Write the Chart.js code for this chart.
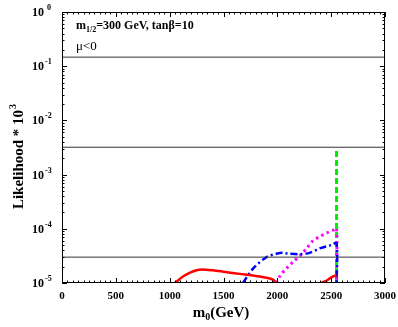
<!DOCTYPE html>
<html>
<head>
<meta charset="utf-8">
<script src="https://cdn.jsdelivr.net/npm/chart.js@4/dist/chart.umd.min.js"></script>
<style>
  html, body { margin: 0; padding: 0; background: #fff; }
  #wrap { width: 398px; height: 327px; }
</style>
</head>
<body>
<div id="wrap"><canvas id="likelihoodChart" width="398" height="327"></canvas></div>
<script>
// values (likelihood * 10^3 vs m0 in GeV)
var redX = [1050, 1120, 1190, 1250, 1300, 1400, 1500, 1600, 1700, 1800, 1900, 1960, 1990];
var redY = [1.0e-5, 1.3e-5, 1.55e-5, 1.72e-5, 1.78e-5, 1.72e-5, 1.62e-5, 1.52e-5, 1.43e-5, 1.35e-5, 1.25e-5, 1.15e-5, 1.0e-5];
var red2X = [2410, 2470, 2510, 2550];
var red2Y = [1.0e-5, 1.15e-5, 1.3e-5, 1.4e-5];
var blueX = [1680, 1780, 1900, 2000, 2050, 2100, 2200, 2300, 2400, 2500, 2550, 2550];
var blueY = [1.0e-5, 1.9e-5, 3.0e-5, 3.5e-5, 3.6e-5, 3.5e-5, 3.4e-5, 3.6e-5, 4.4e-5, 5.0e-5, 5.4e-5, 1.0e-5];
var magX = [1990, 2030, 2090, 2150, 2210, 2270, 2330, 2400, 2460, 2520, 2550, 2550];
var magY = [1.0e-5, 1.4e-5, 1.9e-5, 2.5e-5, 3.2e-5, 4.3e-5, 6.0e-5, 7.3e-5, 8.4e-5, 9.5e-5, 1.02e-4, 1.0e-5];
var greenX = [2550, 2550];
var greenY = [1.0e-5, 2.8e-3];
var levelY = [0.147, 0.0032, 3.0e-5];
var xTicks = [0, 500, 1000, 1500, 2000, 2500, 3000];
var yExps = [0, -1, -2, -3, -4, -5];

function pts(xs, ys) {
  return xs.map(function(x, i) { return { x: x, y: ys[i] }; });
}

var datasets = [];
levelY.forEach(function(v) {
  datasets.push({ data: [{ x: 0, y: v }, { x: 3000, y: v }], borderColor: '#333', borderWidth: 1 });
});
datasets.push({ data: pts(redX, redY), borderColor: '#ff0000', borderWidth: 2.5, tension: 0.3 });
datasets.push({ data: pts(red2X, red2Y), borderColor: '#ff0000', borderWidth: 2.5, tension: 0.3 });
datasets.push({ data: pts(blueX, blueY), borderColor: '#0000ff', borderWidth: 2.5, borderDash: [7, 3, 2, 3], tension: 0.3 });
datasets.push({ data: pts(magX, magY), borderColor: '#ff00ff', borderWidth: 3, borderDash: [2.5, 3.5], tension: 0.3 });
datasets.push({ data: pts(greenX, greenY), borderColor: '#00ee00', borderWidth: 3, borderDash: [6, 3] });

var SERIF = '"Liberation Serif"';

var frame = {
  id: 'frame',
  afterDraw: function(chart) {
    var ctx = chart.ctx, a = chart.chartArea;
    var xs = chart.scales.x, ys = chart.scales.y;
    ctx.save();
    ctx.strokeStyle = '#000';
    ctx.lineWidth = 1;
    ctx.strokeRect(a.left + 0.5, a.top + 0.5, a.right - a.left - 1, a.bottom - a.top - 1);

    ctx.beginPath();
    // x ticks, inward, top and bottom
    for (var v = 0; v <= 3000; v += 50) {
      var px = Math.round(xs.getPixelForValue(v)) + 0.5;
      var len = (v % 500 === 0) ? 5 : 2.5;
      ctx.moveTo(px, a.bottom); ctx.lineTo(px, a.bottom - len);
      ctx.moveTo(px, a.top); ctx.lineTo(px, a.top + len);
    }
    // y log ticks, left and right
    for (var e = -5; e <= 0; e++) {
      for (var m = 1; m <= 9; m++) {
        if (e === 0 && m > 1) break;
        var py = Math.round(ys.getPixelForValue(m * Math.pow(10, e))) + 0.5;
        var l = (m === 1) ? 5 : 2.5;
        ctx.moveTo(a.left, py); ctx.lineTo(a.left + l, py);
        ctx.moveTo(a.right, py); ctx.lineTo(a.right - l, py);
      }
    }
    ctx.stroke();

    ctx.fillStyle = '#000';
    // x tick labels
    ctx.font = 'bold 11px ' + SERIF;
    ctx.textAlign = 'center';
    ctx.textBaseline = 'middle';
    xTicks.forEach(function(t) {
      ctx.fillText(String(t), xs.getPixelForValue(t), a.bottom + 13);
    });
    // y tick labels 10^n
    yExps.forEach(function(n) {
      var py = ys.getPixelForValue(Math.pow(10, n));
      ctx.font = 'bold 12px ' + SERIF;
      ctx.textAlign = 'left';
      ctx.textBaseline = 'middle';
      ctx.fillText('10', 32, py + 1);
      var w = ctx.measureText('10').width;
      ctx.font = 'bold 8px ' + SERIF;
      ctx.fillText(n === 0 ? ' 0' : String(n), 32 + w + 1, py - 4);
    });

    // x axis title m0(GeV)
    ctx.textBaseline = 'alphabetic';
    ctx.textAlign = 'left';
    var cx = 221;
    ctx.font = 'bold 15px ' + SERIF;
    var wm = ctx.measureText('m').width;
    var wg = ctx.measureText('(GeV)').width;
    ctx.font = 'bold 10px ' + SERIF;
    var ws = ctx.measureText('0').width;
    var x0 = cx - (wm + ws + wg) / 2;
    ctx.font = 'bold 15px ' + SERIF;
    ctx.fillText('m', x0, 317);
    ctx.font = 'bold 10px ' + SERIF;
    ctx.fillText('0', x0 + wm, 320);
    ctx.font = 'bold 15px ' + SERIF;
    ctx.fillText('(GeV)', x0 + wm + ws, 317);

    // y axis title
    ctx.save();
    ctx.translate(23, 157);
    ctx.rotate(-Math.PI / 2);
    ctx.font = 'bold 15px ' + SERIF;
    var t1 = 'Likelihood * 10';
    var w1 = ctx.measureText(t1).width;
    ctx.font = 'bold 10px ' + SERIF;
    var w2 = ctx.measureText('3').width;
    var sx = -(w1 + w2) / 2;
    ctx.font = 'bold 15px ' + SERIF;
    ctx.fillText(t1, sx, 0);
    ctx.font = 'bold 10px ' + SERIF;
    ctx.fillText('3', sx + w1 + 1, -7);
    ctx.restore();

    // annotations
    var ax = 76;
    ctx.font = 'bold 12px ' + SERIF;
    ctx.fillText('m', ax, 29);
    var wmm = ctx.measureText('m').width;
    ctx.font = 'bold 8px ' + SERIF;
    ctx.fillText('1/2', ax + wmm, 32);
    var w12 = ctx.measureText('1/2').width;
    ctx.font = 'bold 12px ' + SERIF;
    ctx.fillText('=300 GeV, tan\u03b2=10', ax + wmm + w12, 29);
    ctx.font = '13px ' + SERIF;
    ctx.fillText('\u03bc<0', ax, 50);
    ctx.restore();
  }
};

var ctx = document.getElementById('likelihoodChart').getContext('2d');
var chart = new Chart(ctx, {
  type: 'line',
  data: { datasets: datasets },
  options: {
    responsive: false,
    animation: false,
    layout: { padding: { left: 62, right: 13, top: 12, bottom: 44 } },
    elements: { point: { radius: 0 } },
    plugins: { legend: { display: false }, tooltip: { enabled: false } },
    scales: {
      x: {
        type: 'linear', min: 0, max: 3000,
        ticks: { display: false }, grid: { display: false }, border: { display: false },
        afterFit: function(s) { s.height = 0; }
      },
      y: {
        type: 'logarithmic', min: 1e-5, max: 1,
        ticks: { display: false }, grid: { display: false }, border: { display: false },
        afterFit: function(s) { s.width = 0; }
      }
    }
  },
  plugins: [frame]
});
</script>
</body>
</html>
